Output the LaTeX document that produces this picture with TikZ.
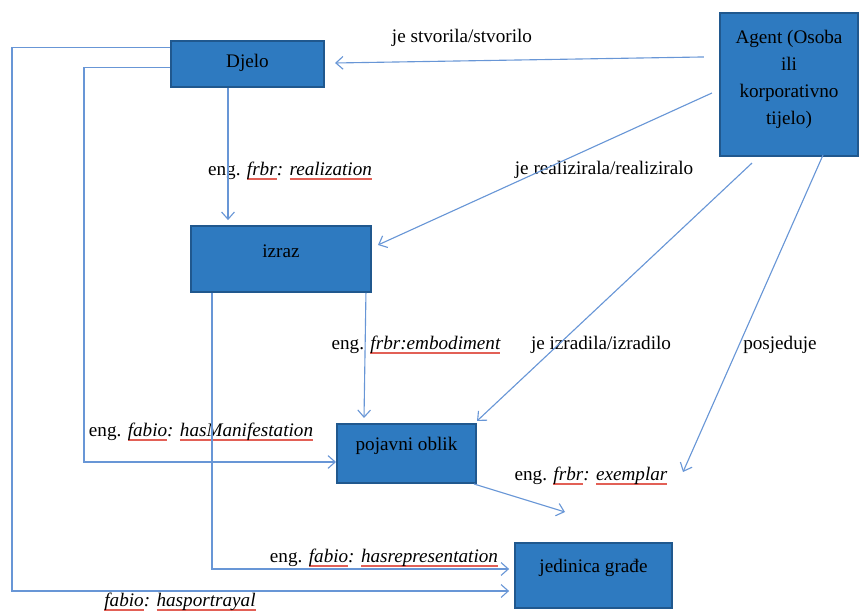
\documentclass[tikz,border=0pt]{standalone}
\usepackage{fontspec}
\setmainfont{Liberation Serif}
\usetikzlibrary{arrows.meta,calc}
\definecolor{boxfill}{RGB}{46,122,192}
\definecolor{boxline}{RGB}{32,88,142}
\definecolor{linkblue}{RGB}{104,150,214}
\definecolor{spellred}{RGB}{226,96,86}
\newsavebox{\spellbox}
\newcommand{\spell}[1]{\sbox{\spellbox}{\itshape #1}\leavevmode\rlap{\textcolor{spellred}{\rule[-2.4pt]{\wd\spellbox}{0.8pt}}}\usebox{\spellbox}}
\tikzset{
  entity/.style={draw=boxline, fill=boxfill, line width=1.2pt, text depth=12pt,
    font=\fontsize{12}{17}\selectfont, align=center},
  link/.style={draw=linkblue, line width=0.7pt, -{Straight Barb[length=4.5pt,width=8pt]}},
  lbl/.style={font=\fontsize{12}{14}\selectfont, inner sep=1pt}
}
\begin{document}
\begin{tikzpicture}[x=0.022cm, y=-0.022cm]
  \useasboundingbox (0,0) rectangle (860,612);
  \node[entity, minimum width=3.37cm, minimum height=1.01cm, text depth=4pt] (djelo) at (247.5,64) {Djelo};
  \node[entity, minimum width=3.04cm, minimum height=3.15cm, text depth=9pt] (agent) at (789,84.5) {Agent (Osoba\\ili\\korporativno\\tijelo)};
  \node[entity, minimum width=3.96cm, minimum height=1.45cm, text depth=10pt] (izraz) at (281,259) {izraz};
  \node[entity, minimum width=3.06cm, minimum height=1.30cm] (pojavni) at (406.5,453.5) {pojavni oblik};
  \node[entity, minimum width=3.45cm, minimum height=1.43cm] (jedinica) at (593.5,575.5) {jedinica građe};
  \coordinate (exemplarend) at (683,472);
  \coordinate (pojavniend) at (565,512);

  \node[lbl] (lstvorila) at (462,38) {je stvorila/stvorilo};
  \node[lbl] (lrealizirala) at (604,170) {je realizirala/realiziralo};
  \node[lbl] (lizradila) at (601,345) {je izradila/izradilo};
  \node[lbl] (lposjeduje) at (780,345) {posjeduje};
  \node[lbl] (lrealization) at (290,171) {eng. \spell{frbr}\textit{:} \spell{realization}};
  \node[lbl] (lembodiment) at (416,345) {eng. \spell{frbr:embodiment}};
  \node[lbl] (lmanifestation) at (201,432) {eng. \spell{fabio}\textit{:} \spell{hasManifestation}};
  \node[lbl] (lexemplar) at (591,476) {eng. \spell{frbr}\textit{:} \spell{exemplar}};
  \node[lbl] (lrepresentation) at (384,558) {eng. \spell{fabio}\textit{:} \spell{hasrepresentation}};
  \node[lbl] (lportrayal) at (180,602) {\spell{fabio}\textit{:} \spell{hasportrayal}};

  \draw[link] ($(agent.north west)+(-15,45)$) -- ($(djelo.east)+(10,-1)$);
  \draw[link] ($(agent.west)+(-7,8.5)$) -- ($(izraz.east)+(6,-14)$);
  \draw[link] ($(agent.south)+(-37,6)$) -- ($(pojavni.north east)+(0,-2)$);
  \draw[link] ($(agent.south)+(34,-2)$) -- (exemplarend);
  \draw[link] ($(djelo.south)+(-19.5,0)$) -- ($(izraz.north)+(-53,-5)$);
  \draw[link] ($(izraz.south east)+(-6,0)$) -- ($(pojavni.north west)+(28,-5)$);
  \draw[link] ($(pojavni.south east)+(-3,0)$) -- (pojavniend);
  \draw[link] ($(djelo.north west)+(0,27)$) -- ++(-86,0) |- ($(pojavni.west)+(0,8.5)$);
  \draw[link] ($(izraz.south west)+(22,0)$) |- ($(jedinica.west)+(-5,-6.5)$);
  \draw[link] ($(djelo.north west)+(0,7)$) -- ++(-158,0) |- ($(jedinica.west)+(-5,15.5)$);
\end{tikzpicture}
\end{document}
